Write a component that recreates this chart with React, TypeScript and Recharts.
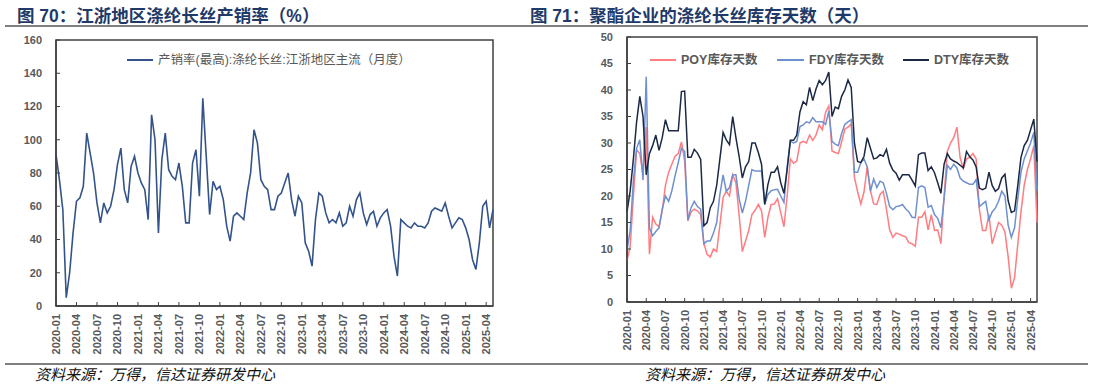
import React from "react";
import { LineChart, Line, XAxis, YAxis, ReferenceArea } from "recharts";

const FONT = '"Liberation Sans", "Noto Sans CJK SC", sans-serif';
const AXIS_GREY = "#595959";
const FRAME = "#404040";
const TITLE_BLUE = "#1F3A68";

// quarterly tick labels, one every 3 months from 2020-01
const tickLabels = [
  "2020-01", "2020-04", "2020-07", "2020-10",
  "2021-01", "2021-04", "2021-07", "2021-10",
  "2022-01", "2022-04", "2022-07", "2022-10",
  "2023-01", "2023-04", "2023-07", "2023-10",
  "2024-01", "2024-04", "2024-07", "2024-10",
  "2025-01", "2025-04",
];
const tickPos = tickLabels.map((_, i) => i * 3);

// 产销率, half-month samples from 2020-01
const salesRate = [
  91, 76, 58, 5, 20, 44, 63, 65, 72, 104,
  92, 80, 62, 50, 62, 56, 60, 70, 85, 95,
  70, 62, 84, 90, 80, 74, 70, 52, 115, 100,
  44, 88, 104, 82, 78, 76, 86, 72, 50, 50,
  86, 94, 66, 125, 90, 55, 75, 70, 72, 64,
  48, 39, 54, 56, 54, 52, 68, 80, 106, 98,
  76, 72, 70, 58, 58, 66, 68, 74, 80, 64,
  54, 66, 62, 38, 33, 24, 52, 68, 66, 56,
  50, 52, 50, 56, 48, 50, 60, 54, 64, 68,
  56, 49, 55, 57, 48, 53, 56, 58, 48, 30,
  18, 52, 50, 48, 47, 50, 48, 48, 47, 50,
  57, 59, 58, 57, 62, 54, 47, 50, 53, 52,
  47, 40, 28, 22, 38, 60, 63, 47, 58,
];

// 库存天数, half-month samples from 2020-01
const poyDays = [
  7.8, 10.5, 20, 28.7, 28, 24, 33, 9, 16, 14.7,
  14.2, 17.2, 22, 24.5, 26, 27.5, 28, 30.2, 26.6, 15.3,
  17, 17.5, 17.2, 16.5, 11, 9, 8.5, 10, 9.5, 14.5,
  19.7, 20.9, 20, 24, 22.5, 16.5, 9.5, 11.5, 13.5, 16.5,
  17.3, 18.4, 17.2, 12.2, 16, 18.4, 18.5, 19.5, 16.8, 14.2,
  20, 27, 26.2, 26.6, 30, 30.3, 30, 31.5, 30.5, 31.5,
  33.4, 32.5, 35.8, 37, 28.5, 28.2, 28, 30.2, 32.6, 33,
  33.6, 23.5, 20.8, 18.5, 20.8, 25.5, 21, 18.5, 18.4, 20.3,
  20.9, 17.5, 13.6, 12.2, 13, 12.8, 12.5, 12.3, 11.2, 11,
  10.5, 16, 16, 17, 13.6, 16.5, 13.5, 13.6, 11, 20,
  28.4, 30, 31, 33, 27.2, 25.2, 27, 27.3, 28, 27,
  17.5, 13.5, 13.5, 16.5, 11, 13, 15, 14.5, 13.2, 8.5,
  2.6, 4.6, 10.9, 17, 22, 25, 27, 29.5, 15,
];

const fdyDays = [
  9.8, 13.5, 23, 29, 30.6, 23, 42.5, 14, 12.5, 13.3,
  14, 17.5, 20, 19, 21, 23.8, 26.3, 29, 28.4, 15.5,
  17.8, 19, 18, 17.5, 11, 11.5, 11.5, 13, 15, 20.3,
  24, 20.9, 21.6, 24, 24, 19.5, 16.8, 19, 22, 25,
  24.7, 24.7, 24.7, 18.4, 20.3, 21, 21.2, 21.25, 20, 18.8,
  25.5, 30.3, 30, 30.3, 33.1, 33.4, 34, 33.8, 34.8, 34,
  34, 34, 33.5, 36, 30.3, 29.8, 29.5, 31.8, 33.5, 34,
  34.4, 24.5, 24.5, 26.3, 27, 25.5, 20.9, 23.2, 21.6, 22.8,
  22.5, 20.5, 18, 17.4, 18, 18.1, 18.4, 17.6, 17, 16,
  15.9, 21.6, 21.9, 21.6, 17.9, 18.2, 16.5, 15.8, 14, 19.5,
  25.8, 25, 26, 25.3, 23.4, 22.8, 22.5, 22.2, 22.2, 23.1,
  18, 18.5, 19, 15.5, 17, 17.7, 19, 20.9, 20, 14.5,
  12.2, 14, 19.5, 24.5, 27, 28.5, 30, 32, 21,
];

const dtyDays = [
  17, 21, 27, 34, 38.8, 35, 24, 28, 29.5, 31.5,
  28.6, 31, 34.4, 32.3, 32.3, 32.3, 32.3, 39.7, 39.8, 27.3,
  27.3, 28.8, 28.1, 26.9, 14.4, 15, 17.8, 19, 22, 27,
  32, 30.6, 29.7, 35, 31, 27.5, 23.4, 25.5, 26.5, 30,
  30, 28.2, 26, 18.4, 22.2, 24.5, 24.5, 25.5, 22.5, 20.5,
  25, 30.5, 30.5, 31.5, 35.9, 37.8, 37.2, 40.5, 38, 40.2,
  41.8, 41, 41.8, 43.4, 35, 36.8, 36.5, 38.8, 40, 41.9,
  40.5, 30, 26.5, 26.3, 27.5, 31, 29, 27, 27.2, 27.8,
  27.5, 28.8, 26.2, 24.9, 24.3, 23, 24, 24, 24, 23,
  21.9, 27.8, 28.1, 28.1, 24.8, 25.5, 24.4, 22.5, 20.5, 26,
  28, 27, 26.6, 26.3, 25.8, 25.3, 28.4, 27.4, 26.8, 25.5,
  21.5, 21.2, 21.5, 24.5, 22, 20.9, 21.4, 23.4, 24.1, 19.1,
  16.9, 17.2, 22, 27.3, 29.5, 30.5, 32.5, 34.5, 26.5,
];

const leftTicks = [0, 20, 40, 60, 80, 100, 120, 140, 160];
const rightTicks = [0, 5, 10, 15, 20, 25, 30, 35, 40, 45, 50];

const leftData = salesRate.map((v, i) => ({ t: i * 0.5, rate: v }));
const rightData = poyDays.map((v, i) => ({
  t: i * 0.5,
  poy: v,
  fdy: fdyDays[i],
  dty: dtyDays[i],
}));

const MonthTick = (props: any) => {
  const { x, y, payload } = props;
  const label = tickLabels[tickPos.indexOf(payload.value)];
  return (
    <text
      x={x}
      y={y}
      transform={`rotate(-90, ${x}, ${y})`}
      textAnchor="end"
      dominantBaseline="central"
      fill={AXIS_GREY}
      fontSize={11}
      fontWeight={700}
      fontFamily={FONT}
    >
      {label}
    </text>
  );
};

const yTickStyle = { fill: AXIS_GREY, fontSize: 11, fontWeight: 700, fontFamily: FONT };
const frameLine = { stroke: FRAME, strokeWidth: 1.5 };

const absText = (left: number, top: number, extra: React.CSSProperties): React.CSSProperties => ({
  position: "absolute",
  left,
  top,
  whiteSpace: "nowrap",
  ...extra,
});

const LegendItem = ({ x, textX, color, label, bold }: { x: number; textX: number; color: string; label: string; bold?: boolean }) => (
  <>
    <div style={{ position: "absolute", left: x, top: 59, width: textX - x - 5, height: 2, background: color }} />
    <div style={absText(textX, 51, { fontSize: 12.5, lineHeight: "18px", color: AXIS_GREY, fontFamily: FONT, fontWeight: bold ? 700 : 400 })}>
      {label}
    </div>
  </>
);

const App: React.FC = () => {
  const titleStyle: React.CSSProperties = {
    fontSize: 17.5,
    lineHeight: "20px",
    fontWeight: 700,
    color: TITLE_BLUE,
    fontFamily: FONT,
  };
  const sourceStyle: React.CSSProperties = {
    fontSize: 15,
    lineHeight: "20px",
    fontStyle: "italic",
    color: "#111",
    fontFamily: '"Noto Sans CJK SC", sans-serif',
  };

  return (
    <div style={{ position: "absolute", left: 0, top: 0, width: 1094, height: 388, background: "#fff", overflow: "hidden" }}>
      <div style={absText(17, 6, titleStyle)}>图 70：江浙地区涤纶长丝产销率（%）</div>
      <div style={absText(530, 6, titleStyle)}>图 71：聚酯企业的涤纶长丝库存天数（天）</div>
      <div style={{ position: "absolute", left: 5, top: 25, width: 1083, height: 1.5, background: "#7f7f7f" }} />

      <div style={{ position: "absolute", left: 0, top: 0 }}>
        <LineChart width={547} height={388} data={leftData} margin={{ top: 40, right: 54, bottom: 0, left: 0 }}>
          <XAxis
            dataKey="t"
            type="number"
            domain={[0, 64]}
            ticks={tickPos}
            interval={0}
            tick={(p: any) => <MonthTick {...p} />}
            tickSize={-4}
            tickMargin={12}
            height={82}
            axisLine={frameLine}
            tickLine={{ stroke: FRAME }}
          />
          <YAxis
            type="number"
            domain={[0, 160]}
            ticks={leftTicks}
            interval={0}
            width={56}
            tickSize={-4}
            tickMargin={18}
            tick={yTickStyle}
            axisLine={frameLine}
            tickLine={{ stroke: FRAME }}
          />
          <ReferenceArea x1={0} x2={64} y1={0} y2={160} fill="none" stroke={FRAME} strokeWidth={1.5} />
          <Line dataKey="rate" stroke="#34538A" strokeWidth={1.6} dot={false} isAnimationActive={false} />
        </LineChart>
      </div>

      <div style={{ position: "absolute", left: 547, top: 0 }}>
        <LineChart width={547} height={388} data={rightData} margin={{ top: 37, right: 57, bottom: 0, left: 0 }}>
          <XAxis
            dataKey="t"
            type="number"
            domain={[0, 64]}
            ticks={tickPos}
            interval={0}
            tick={(p: any) => <MonthTick {...p} />}
            tickSize={-4}
            tickMargin={12}
            height={86}
            axisLine={frameLine}
            tickLine={{ stroke: FRAME }}
          />
          <YAxis
            type="number"
            domain={[0, 50]}
            ticks={rightTicks}
            interval={0}
            width={80}
            tickSize={-4}
            tickMargin={18}
            tick={yTickStyle}
            axisLine={frameLine}
            tickLine={{ stroke: FRAME }}
          />
          <ReferenceArea x1={0} x2={64} y1={0} y2={50} fill="none" stroke={FRAME} strokeWidth={1.5} />
          <Line dataKey="poy" stroke="#FF7C80" strokeWidth={1.5} dot={false} isAnimationActive={false} />
          <Line dataKey="fdy" stroke="#6F90CF" strokeWidth={1.5} dot={false} isAnimationActive={false} />
          <Line dataKey="dty" stroke="#1B2945" strokeWidth={1.5} dot={false} isAnimationActive={false} />
        </LineChart>
      </div>

      <LegendItem x={127} textX={158} color="#34538A" label="产销率(最高):涤纶长丝:江浙地区主流（月度）" />
      <LegendItem x={650} textX={681} color="#FF7C80" label="POY库存天数" bold />
      <LegendItem x={777} textX={809} color="#6F90CF" label="FDY库存天数" bold />
      <LegendItem x={903} textX={934} color="#1B2945" label="DTY库存天数" bold />

      <div style={{ position: "absolute", left: 5, top: 363, width: 1083, height: 1.5, background: "#7f7f7f" }} />
      <div style={absText(35, 364, sourceStyle)}>资料来源：万得，信达证券研发中心</div>
      <div style={absText(645, 364, sourceStyle)}>资料来源：万得，信达证券研发中心</div>
    </div>
  );
};

export default App;
